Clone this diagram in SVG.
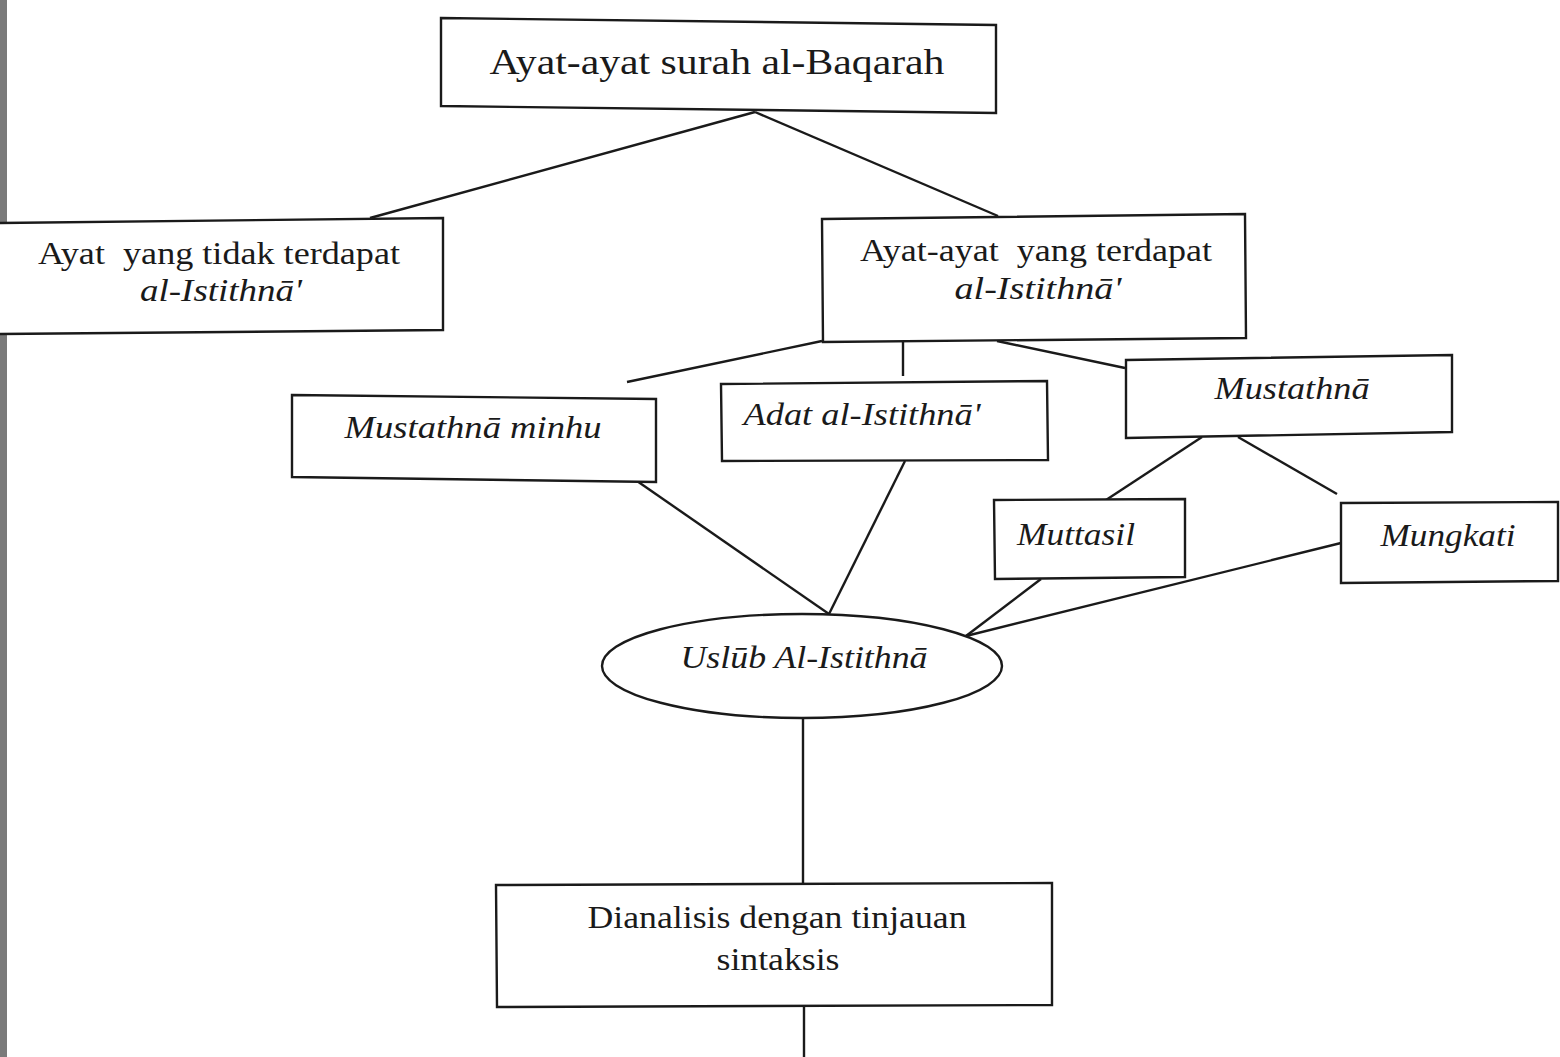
<svg xmlns="http://www.w3.org/2000/svg" width="1560" height="1057" viewBox="0 0 1560 1057">
<style>
.box{fill:#fff;stroke:#1a1a1a;stroke-width:2.4}
.ln{stroke:#1a1a1a;stroke-width:2.4;fill:none}
.t{font-family:"Liberation Serif","Times New Roman",serif;fill:#1a1a1a;text-anchor:middle;white-space:pre;font-size:32px}
.i{font-style:italic}
</style>
<rect x="0" y="0" width="1560" height="1057" fill="#fff"/>
<rect x="0" y="0" width="7" height="1057" fill="#7a7a7a"/>
<g id="connectors">
<line class="ln" x1="755" y1="112" x2="370" y2="218"/>
<line class="ln" x1="755" y1="112" x2="998" y2="216"/>
<line class="ln" x1="822" y1="341" x2="627" y2="382"/>
<line class="ln" x1="903" y1="341" x2="903" y2="376"/>
<line class="ln" x1="997" y1="341" x2="1125" y2="368"/>
<line class="ln" x1="1202" y1="437" x2="1106" y2="500"/>
<line class="ln" x1="1238" y1="437" x2="1337" y2="494"/>
<line class="ln" x1="637" y1="481" x2="829" y2="614"/>
<line class="ln" x1="905" y1="461" x2="829" y2="614"/>
<line class="ln" x1="1041" y1="579" x2="966" y2="636"/>
<line class="ln" x1="1341" y1="543" x2="966" y2="636"/>
<line class="ln" x1="803" y1="718" x2="803" y2="883"/>
<line class="ln" x1="804" y1="1006" x2="804" y2="1057"/>
</g>
<g id="n-top">
<polygon class="box" points="441,18 996,25 996,113 441,106"/>
<text class="t" x="717" y="74" style="font-size:36px" textLength="455" lengthAdjust="spacingAndGlyphs">Ayat-ayat surah al-Baqarah</text>
</g>
<g id="n-no">
<polygon class="box" points="-2,223 443,218 443,330 -2,334"/>
<text class="t" x="219" y="264" textLength="362" lengthAdjust="spacingAndGlyphs">Ayat  yang tidak terdapat</text>
<text class="t i" x="221" y="301" textLength="162" lengthAdjust="spacingAndGlyphs">al-Istithnā'</text>
</g>
<g id="n-yes">
<polygon class="box" points="822,219 1245,214 1246,338 823,342"/>
<text class="t" x="1036" y="261" textLength="352" lengthAdjust="spacingAndGlyphs">Ayat-ayat  yang terdapat</text>
<text class="t i" x="1038" y="299" textLength="167" lengthAdjust="spacingAndGlyphs">al-Istithnā'</text>
</g>
<g id="n-minhu">
<polygon class="box" points="292,395 656,399 656,482 292,477"/>
<text class="t i" x="473" y="438" textLength="257" lengthAdjust="spacingAndGlyphs">Mustathnā minhu</text>
</g>
<g id="n-adat">
<polygon class="box" points="721,384 1047,381 1048,460 722,461"/>
<text class="t i" x="862" y="425" textLength="237" lengthAdjust="spacingAndGlyphs">Adat al-Istithnā'</text>
</g>
<g id="n-mustathna">
<polygon class="box" points="1126,360 1452,355 1452,432 1126,438"/>
<text class="t i" x="1292" y="399" textLength="155" lengthAdjust="spacingAndGlyphs">Mustathnā</text>
</g>
<g id="n-muttasil">
<polygon class="box" points="994,500 1185,499 1185,577 995,579"/>
<text class="t i" x="1076" y="545" textLength="118" lengthAdjust="spacingAndGlyphs">Muttasil</text>
</g>
<g id="n-mungkati">
<polygon class="box" points="1341,503 1558,502 1558,581 1341,583"/>
<text class="t i" x="1448" y="546" textLength="135" lengthAdjust="spacingAndGlyphs">Mungkati</text>
</g>
<g id="n-uslub">
<ellipse class="box" cx="802" cy="666" rx="200" ry="52"/>
<text class="t i" x="804" y="668" textLength="247" lengthAdjust="spacingAndGlyphs">Uslūb Al-Istithnā</text>
</g>
<g id="n-dianalisis">
<polygon class="box" points="496,885 1052,883 1052,1005 497,1007"/>
<text class="t" x="777" y="928" textLength="379" lengthAdjust="spacingAndGlyphs">Dianalisis dengan tinjauan</text>
<text class="t" x="778" y="970" textLength="123" lengthAdjust="spacingAndGlyphs">sintaksis</text>
</g>
</svg>
